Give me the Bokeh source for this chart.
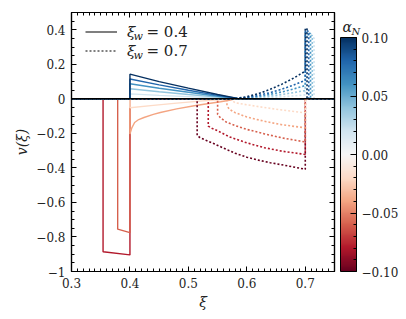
import numpy as np
from bokeh.plotting import figure
from bokeh.models import (ColorBar, LinearColorMapper, FixedTicker, Span, Label,
                          Legend, LegendItem, LinearAxis, Range1d, CustomJSTickFormatter)
from bokeh.embed import file_html
from bokeh.resources import INLINE

# ---------------- data ----------------
# wall speed xi_w = 0.4 (solid lines)
solid_alpha = [-0.08, -0.06, -0.04, -0.02, 0.02, 0.04, 0.06, 0.08, 0.10]

solid_xi_m08 = [0.30, 0.354, 0.354, 0.40, 0.40, 0.75]
solid_v_m08 = [0.0, 0.0, -0.886, -0.904, 0.0, 0.0]
solid_xi_m06 = [0.30, 0.379, 0.379, 0.40, 0.40, 0.75]
solid_v_m06 = [0.0, 0.0, -0.755, -0.775, 0.0, 0.0]
solid_xi_m04 = [0.30, 0.40, 0.40, 0.403, 0.408, 0.415, 0.424, 0.44, 0.452, 0.48, 0.51, 0.535, 0.555, 0.57, 0.58, 0.75]
solid_v_m04 = [0.0, 0.0, -0.204, -0.17, -0.137, -0.12, -0.108, -0.09, -0.079, -0.058, -0.04, -0.027, -0.017, -0.008, 0.0, 0.0]
solid_xi_m02 = [0.30, 0.40, 0.40, 0.44, 0.48, 0.52, 0.55, 0.57, 0.75]
solid_v_m02 = [0.0, 0.0, -0.052, -0.038, -0.025, -0.013, -0.005, 0.0, 0.0]
solid_xi_pos = [0.30, 0.40, 0.40, 0.45, 0.50, 0.55, 0.582, 0.582, 0.75]
solid_v_p02 = [0.0, 0.0, 0.029, 0.020, 0.013, 0.005, 0.001, 0.0, 0.0]
solid_v_p04 = [0.0, 0.0, 0.058, 0.041, 0.025, 0.010, 0.001, 0.0, 0.0]
solid_v_p06 = [0.0, 0.0, 0.087, 0.061, 0.038, 0.015, 0.002, 0.0, 0.0]
solid_v_p08 = [0.0, 0.0, 0.115, 0.081, 0.050, 0.020, 0.003, 0.0, 0.0]
solid_v_p10 = [0.0, 0.0, 0.143, 0.100, 0.062, 0.025, 0.004, 0.0, 0.0]

# wall speed xi_w = 0.7 (dotted lines)
dot_alpha = [-0.10, -0.08, -0.06, -0.04, -0.02, 0.02, 0.04, 0.06, 0.08, 0.10]

dot_xi_m10 = [0.30, 0.515, 0.515, 0.52, 0.53, 0.545, 0.56, 0.58, 0.60, 0.62, 0.64, 0.66, 0.68, 0.70, 0.70, 0.75]
dot_v_m10 = [0.0, 0.0, -0.212, -0.225, -0.24, -0.262, -0.285, -0.315, -0.338, -0.355, -0.37, -0.382, -0.395, -0.408, 0.0, 0.0]
dot_xi_m08 = [0.30, 0.534, 0.534, 0.54, 0.55, 0.57, 0.60, 0.63, 0.66, 0.70, 0.70, 0.75]
dot_v_m08 = [0.0, 0.0, -0.158, -0.17, -0.185, -0.22, -0.255, -0.283, -0.303, -0.322, 0.0, 0.0]
dot_xi_m06 = [0.30, 0.55, 0.55, 0.555, 0.565, 0.58, 0.60, 0.63, 0.66, 0.70, 0.70, 0.75]
dot_v_m06 = [0.0, 0.0, -0.09, -0.11, -0.135, -0.155, -0.177, -0.203, -0.226, -0.25, 0.0, 0.0]
dot_xi_m04 = [0.30, 0.566, 0.566, 0.57, 0.58, 0.60, 0.63, 0.66, 0.70, 0.70, 0.75]
dot_v_m04 = [0.0, 0.0, -0.04, -0.06, -0.08, -0.105, -0.13, -0.15, -0.168, 0.0, 0.0]
dot_xi_m02 = [0.30, 0.576, 0.576, 0.58, 0.62, 0.66, 0.70, 0.70, 0.75]
dot_v_m02 = [0.0, 0.0, -0.012, -0.023, -0.045, -0.065, -0.081, 0.0, 0.0]

dot_xi_p02 = [0.30, 0.577, 0.60, 0.62, 0.64, 0.66, 0.68, 0.69, 0.70, 0.70, 0.715, 0.715, 0.75]
dot_v_p02 = [0.0, 0.0, 0.002, 0.004, 0.008, 0.012, 0.017, 0.020, 0.023, 0.360, 0.353, 0.0, 0.0]
dot_xi_p04 = [0.30, 0.577, 0.60, 0.62, 0.64, 0.66, 0.68, 0.69, 0.70, 0.70, 0.712, 0.712, 0.75]
dot_v_p04 = [0.0, 0.0, 0.004, 0.009, 0.016, 0.025, 0.036, 0.042, 0.048, 0.373, 0.366, 0.0, 0.0]
dot_xi_p06 = [0.30, 0.577, 0.60, 0.62, 0.64, 0.66, 0.68, 0.69, 0.70, 0.70, 0.709, 0.709, 0.75]
dot_v_p06 = [0.0, 0.0, 0.006, 0.014, 0.026, 0.040, 0.057, 0.067, 0.077, 0.385, 0.378, 0.0, 0.0]
dot_xi_p08 = [0.30, 0.577, 0.60, 0.62, 0.64, 0.66, 0.68, 0.69, 0.70, 0.70, 0.706, 0.706, 0.75]
dot_v_p08 = [0.0, 0.0, 0.008, 0.020, 0.036, 0.056, 0.080, 0.094, 0.108, 0.397, 0.390, 0.0, 0.0]
dot_xi_p10 = [0.30, 0.577, 0.60, 0.62, 0.64, 0.66, 0.68, 0.69, 0.70, 0.70, 0.703, 0.703, 0.75]
dot_v_p10 = [0.0, 0.0, 0.012, 0.030, 0.055, 0.085, 0.120, 0.140, 0.160, 0.410, 0.405, 0.0, 0.0]

x_ticks = [0.3, 0.4, 0.5, 0.6, 0.7]
y_ticks = [-1.0, -0.8, -0.6, -0.4, -0.2, 0.0, 0.2, 0.4]
cb_ticks = [-0.10, -0.05, 0.0, 0.05, 0.10]
alpha_low, alpha_high = -0.1, 0.1
legend_values = ["= 0.4", "= 0.7"]

solid_xi = [solid_xi_m08, solid_xi_m06, solid_xi_m04, solid_xi_m02,
            solid_xi_pos, solid_xi_pos, solid_xi_pos, solid_xi_pos, solid_xi_pos]
solid_v = [solid_v_m08, solid_v_m06, solid_v_m04, solid_v_m02,
           solid_v_p02, solid_v_p04, solid_v_p06, solid_v_p08, solid_v_p10]
dot_xi = [dot_xi_m10, dot_xi_m08, dot_xi_m06, dot_xi_m04, dot_xi_m02,
          dot_xi_p02, dot_xi_p04, dot_xi_p06, dot_xi_p08, dot_xi_p10]
dot_v = [dot_v_m10, dot_v_m08, dot_v_m06, dot_v_m04, dot_v_m02,
         dot_v_p02, dot_v_p04, dot_v_p06, dot_v_p08, dot_v_p10]

# ---------------- colour map (RdBu) ----------------
rdbu_stops = ["#67001f", "#b2182b", "#d6604d", "#f4a582", "#fddbc7", "#f7f7f7",
              "#d1e5f0", "#92c5de", "#4393c3", "#2166ac", "#053061"]
stop_rgb = np.array([[int(c[i:i + 2], 16) for i in (1, 3, 5)] for c in rdbu_stops], float)


def cmap(t):
    t = min(max(t, 0.0), 1.0) * (len(rdbu_stops) - 1)
    i = min(int(np.floor(t)), len(rdbu_stops) - 2)
    f = t - i
    rgb = stop_rgb[i] * (1 - f) + stop_rgb[i + 1] * f
    return "#%02x%02x%02x" % tuple(int(round(c)) for c in rgb)


def color_of(a):
    return cmap((a - alpha_low) / (alpha_high - alpha_low))


palette = [cmap(k / 255) for k in range(256)]

FONT = "DejaVu Serif"
TXT = "#222222"

p = figure(width=406, height=319, x_range=Range1d(0.3, 0.75), y_range=Range1d(-1.0, 0.5),
           output_backend="svg", toolbar_location=None,
           min_border_left=71, min_border_right=72, min_border_top=12, min_border_bottom=48)
p.xgrid.visible = False
p.ygrid.visible = False
p.outline_line_color = "black"
p.outline_line_width = 1.2
p.background_fill_color = "white"

x_minor = [round(0.30 + 0.01 * k, 2) for k in range(46)]
y_minor = [round(-1.0 + 0.05 * k, 2) for k in range(31)]

y_fmt = CustomJSTickFormatter(code="""
    let s;
    if (Math.abs(tick) < 1e-9) s = '0';
    else if (Math.abs(tick - Math.round(tick)) < 1e-9) s = String(Math.round(tick));
    else s = tick.toFixed(1);
    return s.replace('-', '\u2212');
""")


def style_axis(ax, ticker, show_labels=True):
    ax.ticker = ticker
    ax.major_tick_in = 5
    ax.major_tick_out = 0
    ax.minor_tick_in = 3
    ax.minor_tick_out = 0
    ax.major_tick_line_color = "black"
    ax.minor_tick_line_color = "black"
    ax.major_tick_line_width = 1
    ax.minor_tick_line_width = 1
    ax.axis_line_color = "black"
    ax.axis_line_width = 1.2
    ax.major_label_text_font = FONT
    ax.major_label_text_font_size = "12px" if show_labels else "0px"
    ax.major_label_text_color = TXT
    ax.major_label_standoff = 6 if show_labels else 0


style_axis(p.xaxis[0], FixedTicker(ticks=x_ticks, minor_ticks=x_minor))
style_axis(p.yaxis[0], FixedTicker(ticks=y_ticks, minor_ticks=y_minor))
p.yaxis[0].formatter = y_fmt
p.xaxis[0].axis_label = "ξ"
p.yaxis[0].axis_label = "v(ξ)"
for ax in (p.xaxis[0], p.yaxis[0]):
    ax.axis_label_text_font = FONT
    ax.axis_label_text_font_style = "italic"
    ax.axis_label_text_font_size = "14px"
    ax.axis_label_text_color = TXT
p.xaxis[0].axis_label_standoff = 3
p.yaxis[0].axis_label_standoff = 3

top_ax = LinearAxis()
style_axis(top_ax, FixedTicker(ticks=x_ticks, minor_ticks=x_minor), show_labels=False)
p.add_layout(top_ax, "above")
right_ax = LinearAxis()
style_axis(right_ax, FixedTicker(ticks=y_ticks, minor_ticks=y_minor), show_labels=False)
p.add_layout(right_ax, "right")

# ---------------- curves ----------------
for a, xs, vs in zip(solid_alpha, solid_xi, solid_v):
    p.line(xs, vs, line_color=color_of(a), line_width=1.4)
for a, xs, vs in zip(dot_alpha, dot_xi, dot_v):
    p.line(xs, vs, line_color=color_of(a), line_width=1.6, line_dash="2 2")

p.add_layout(Span(location=0, dimension="width", line_color="black", line_width=1.5))

# ---------------- legend ----------------
r_leg_solid = p.line([np.nan], [np.nan], line_color="#555555", line_width=1.3)
r_leg_dot = p.line([np.nan], [np.nan], line_color="#555555", line_width=1.6, line_dash="2 2")
legend = Legend(items=[LegendItem(label="ξ", renderers=[r_leg_solid]),
                       LegendItem(label="ξ", renderers=[r_leg_dot])],
                location=(14, 211), glyph_width=32, glyph_height=19, spacing=0,
                padding=0, margin=0, label_standoff=10, label_height=19,
                border_line_color=None, background_fill_alpha=0,
                label_text_font=FONT, label_text_font_style="italic",
                label_text_font_size="15px", label_text_color=TXT)
p.add_layout(legend)

for txt, yb in zip(legend_values, (240, 221)):
    p.add_layout(Label(x=62, y=yb - 5, text="w", x_units="screen", y_units="screen",
                       text_font=FONT, text_font_style="italic", text_font_size="11px",
                       text_baseline="middle", text_color=TXT))
    p.add_layout(Label(x=75, y=yb, text=txt, x_units="screen", y_units="screen",
                       text_font=FONT, text_font_size="15px",
                       text_baseline="middle", text_color=TXT))

# ---------------- colour bar ----------------
mapper = LinearColorMapper(palette=palette, low=alpha_low, high=alpha_high)
cb_minor = [round(-0.10 + 0.01 * k, 2) for k in range(21)]
cb = ColorBar(color_mapper=mapper,
              ticker=FixedTicker(ticks=cb_ticks, minor_ticks=cb_minor),
              formatter=CustomJSTickFormatter(code="return tick.toFixed(2).replace('-', '\u2212');"),
              width=16, height=234, location=(6, 0), padding=0, margin=0,
              major_tick_in=6, major_tick_out=0, minor_tick_in=3, minor_tick_out=0,
              major_tick_line_color="black", minor_tick_line_color="black",
              bar_line_color="black", label_standoff=5,
              major_label_text_font=FONT, major_label_text_font_size="12px",
              major_label_text_color=TXT,
              background_fill_alpha=0, border_line_color=None)
p.add_layout(cb, "right")

# colour-bar title alpha_N: the two parts sit in spare room of the left / top panels
# and are shifted over to the top of the colour bar
p.add_layout(Label(x=340, y=245, text="α", x_units="screen", y_units="screen",
                   text_font=FONT, text_font_style="italic", text_font_size="14px",
                   text_baseline="middle", text_color=TXT), "left")
p.add_layout(Label(x=280, y=-19, text="N", x_units="screen", y_units="screen",
                   text_font=FONT, text_font_style="italic", text_font_size="10px",
                   text_baseline="middle", text_color=TXT), "above")

open("out.html", "w").write(file_html(p, INLINE))
